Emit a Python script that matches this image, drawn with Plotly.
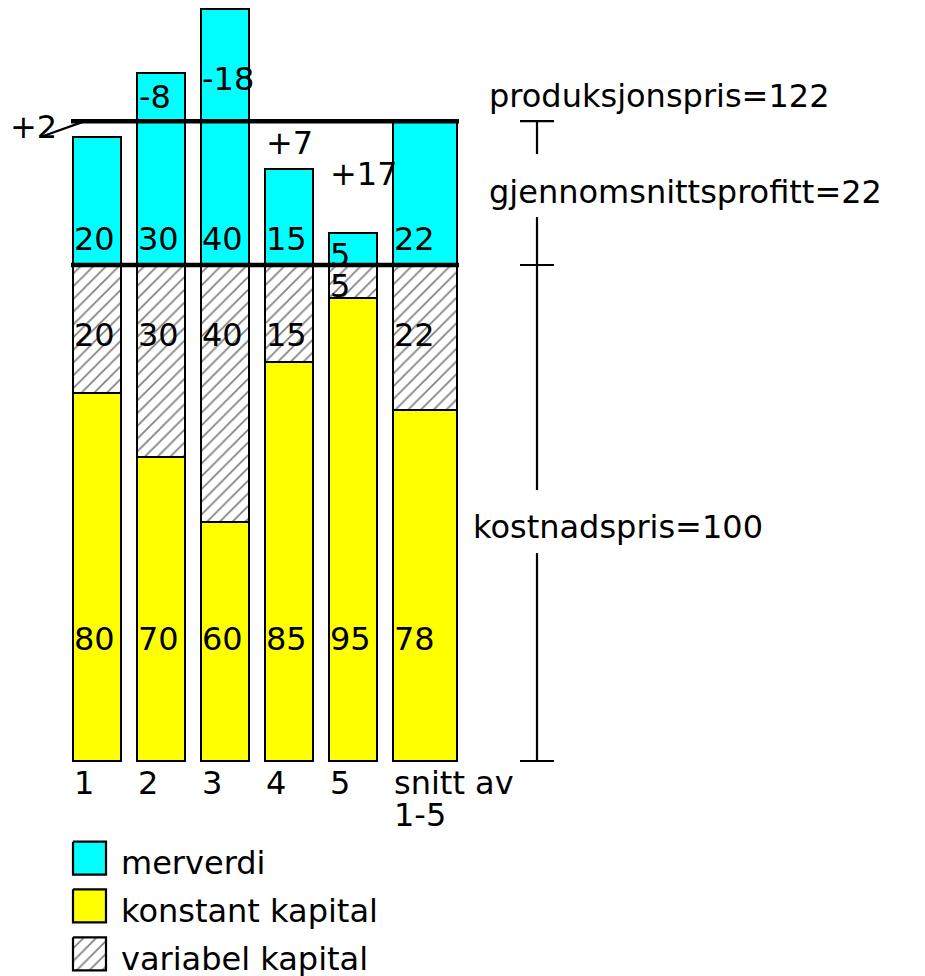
import plotly.graph_objects as go

# ---------------- data ----------------
categories = ["1", "2", "3", "4", "5", "snitt av<br>1-5"]
# bar segment heights as drawn (picture units, kostnadspris level = 100)
konstant_kapital = [74.1, 61.2, 48.2, 80.5, 93.4, 70.8]
variabel_kapital = [25.9, 38.8, 51.8, 19.5, 6.6, 29.2]
merverdi = [25.9, 38.8, 51.6, 19.4, 6.4, 29.0]
# printed values
konstant_labels = [80, 70, 60, 85, 95, 78]
variabel_labels = [20, 30, 40, 15, 5, 22]
merverdi_labels = [20, 30, 40, 15, 5, 22]
kostnadspris = 100
gjennomsnittsprofitt = 22
produksjonspris = 122
# drawn levels
kost_level = 100.0
prod_level = 129.0
legend_names = ["merverdi", "konstant kapital", "variabel kapital"]

# ---------------- layout helpers (screen pixels) ----------------
PAGE_OFF = 8                    # default body margin of the html page
W, H = 925 - PAGE_OFF, 976 - PAGE_OFF
X0_PX, DX_PX = 97.0, 64.0       # screen px of x=1, px per x unit
BASE_PX, PPU = 761.0, 4.96      # screen px of y=0, px per y unit


def X(px):
    return 1 + (px - X0_PX) / DX_PX


def Y(py):
    return (BASE_PX - py) / PPU


x_pos = [1, 2, 3, 4, 5, 6.125]
widths = [0.75, 0.75, 0.75, 0.75, 0.75, 1.0]
FONT = "DejaVu Sans"
FS = 32
CYAN, YELLOW = "#00FFFF", "#FFFF00"
hatch = dict(shape="/", fgcolor="black", bgcolor="white", size=9, solidity=0.18)

fig = go.Figure()
fig.add_trace(go.Bar(x=x_pos, y=konstant_kapital, width=widths, name=legend_names[1],
                     marker=dict(color=YELLOW, line=dict(color="black", width=2)),
                     showlegend=False, hoverinfo="skip"))
fig.add_trace(go.Bar(x=x_pos, y=variabel_kapital, width=widths, name=legend_names[2],
                     marker=dict(color="white", pattern=hatch, line=dict(color="black", width=2)),
                     showlegend=False, hoverinfo="skip"))
fig.add_trace(go.Bar(x=x_pos, y=merverdi, width=widths, name=legend_names[0],
                     marker=dict(color=CYAN, line=dict(color="black", width=2)),
                     showlegend=False, hoverinfo="skip"))

# level lines
for lvl in (kost_level, prod_level):
    fig.add_trace(go.Scatter(x=[X(71), X(459)], y=[lvl, lvl], mode="lines",
                             line=dict(color="black", width=4.5),
                             showlegend=False, hoverinfo="skip"))

ann = []


def text(t, xl, ycen, size=FS):
    ann.append(dict(text=t, x=xl, y=ycen, xref="x", yref="y", xanchor="left",
                    yanchor="middle", showarrow=False, xshift=-3,
                    font=dict(family=FONT, size=size, color="black")))


# value labels inside bars
for i in range(6):
    left_px = X0_PX + (x_pos[i] - 1) * DX_PX - widths[i] * DX_PX / 2 + 2
    xl = X(left_px)
    text(str(konstant_labels[i]), xl, Y(639))
    if i == 4:
        text(str(variabel_labels[i]), xl, Y(286))
        text(str(merverdi_labels[i]), xl, Y(255))
    else:
        text(str(variabel_labels[i]), xl, Y(335))
        text(str(merverdi_labels[i]), xl, Y(239))
    # category labels
    lines = categories[i].split("<br>")
    for j, ln in enumerate(lines):
        text(ln, xl, Y(783 + j * 32))

# deviations (gjennomsnittsprofitt - merverdi)
dev_pos = [(11, 127), (140, 97), (203, 79), (267, 142.5), (331, 174)]
for i, (px, py) in enumerate(dev_pos):
    d = gjennomsnittsprofitt - merverdi_labels[i]
    text(f"{d:+d}", X(px), Y(py))

# right-hand texts
text(f"produksjonspris={produksjonspris}", X(490), Y(96))
text(f"gjennomsnittsprofitt={gjennomsnittsprofitt}", X(490), Y(192))
text(f"kostnadspris={kostnadspris}", X(474), Y(527))

# legend labels
for name, py in zip(legend_names, [863, 911, 958.5]):
    text(name, X(121.5), Y(py))

shapes = []


def seg(x0, y0, x1, y1, w=2.2):
    shapes.append(dict(type="line", xref="x", yref="y", x0=x0, y0=y0, x1=x1, y1=y1,
                       line=dict(color="black", width=w)))


# leader for "+2"
seg(X(42), merverdi[0] + variabel_kapital[0] + konstant_kapital[0], X(85), prod_level)

# dimension lines
DX = X(537)
T0, T1 = X(520), X(554)
seg(T0, prod_level, T1, prod_level)
seg(DX, prod_level, DX, Y(154))
seg(DX, Y(217), DX, Y(490))
seg(T0, kost_level, T1, kost_level)
seg(DX, Y(553), DX, 0)
seg(T0, 0, T1, 0)

# legend squares
sq_top = [841.7, 889.3, 937.3]
fills = [dict(fillcolor=CYAN), dict(fillcolor=YELLOW), dict(fillcolor="white", fillpattern=hatch)]
for top, f in zip(sq_top, fills):
    xs = [X(73), X(106), X(106), X(73), X(73)]
    ys = [Y(top), Y(top), Y(top + 33), Y(top + 33), Y(top)]
    fig.add_trace(go.Scatter(x=xs, y=ys, mode="lines", fill="toself",
                             line=dict(color="black", width=2.2),
                             showlegend=False, hoverinfo="skip", **f))

fig.update_layout(
    width=W, height=H, barmode="stack", bargap=0,
    margin=dict(l=0, r=0, t=0, b=0),
    paper_bgcolor="white", plot_bgcolor="white",
    xaxis=dict(range=[X(PAGE_OFF), X(PAGE_OFF + W)], visible=False, fixedrange=True),
    yaxis=dict(range=[Y(PAGE_OFF + H), Y(PAGE_OFF)], visible=False, fixedrange=True),
    annotations=ann, shapes=shapes, showlegend=False,
)
fig.write_html("out.html")
